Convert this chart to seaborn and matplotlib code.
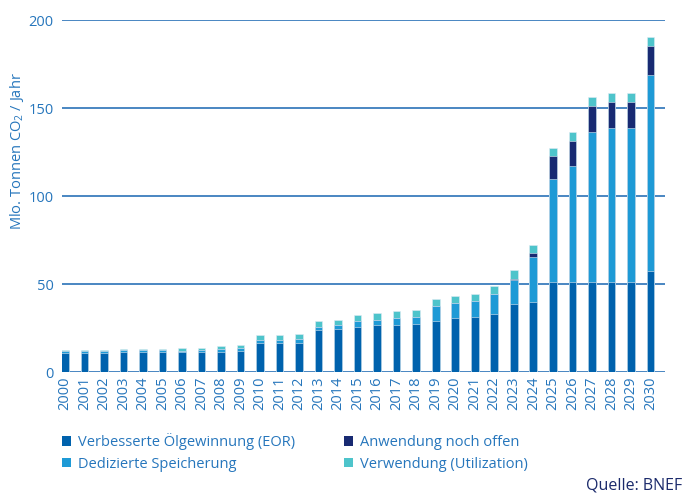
import numpy as np
import pandas as pd
import matplotlib
matplotlib.use("Agg")
import matplotlib.pyplot as plt
import seaborn as sns
from matplotlib.patches import Patch

years = [str(y) for y in range(2000, 2031)]
eor = [10.7, 10.7, 10.7, 11.3, 11.3, 11.3, 11.3, 11.3, 11.3, 11.8, 16.4, 16.4, 16.4, 23.9, 24.4,
       25.5, 26.6, 26.6, 27.3, 29.0, 30.7, 31.3, 32.8, 38.7, 39.8, 51.0, 51.0, 51.0, 51.0, 51.0, 57.3]
dedicated = [1.1, 1.1, 1.1, 1.1, 1.1, 1.1, 0.9, 1.3, 1.7, 1.6, 1.7, 1.5, 2.3, 1.7, 2.3,
             3.4, 2.8, 4.0, 3.8, 8.4, 8.6, 9.1, 11.6, 13.3, 25.3, 58.7, 65.9, 85.2, 87.7, 87.7, 111.2]
open_use = [0, 0, 0, 0, 0, 0, 0, 0, 0, 0, 0, 0, 0, 0, 0,
            0, 0, 0, 0, 0, 0, 0, 0, 1.1, 2.5, 12.9, 14.6, 15.1, 14.9, 14.9, 16.5]
utilization = [0.6, 0.6, 0.6, 0.4, 0.4, 0.4, 1.2, 1.1, 1.5, 1.7, 2.7, 2.9, 2.7, 3.2, 2.7,
               3.6, 4.2, 4.3, 4.4, 4.0, 4.0, 4.2, 4.4, 4.6, 4.7, 4.7, 5.1, 4.9, 5.0, 5.0, 5.3]

labels = ["Verbesserte Ölgewinnung (EOR)", "Dedizierte Speicherung",
          "Anwendung noch offen", "Verwendung (Utilization)"]
colors = ["#0062AD", "#1E9AD6", "#182A72", "#4EC4CB"]
blue_text = "#2676BC"
grid_col = "#2A72B8"

sns.set_style("white")
plt.rcParams['font.family'] = ['Open Sans', 'DejaVu Sans']
plt.rcParams['mathtext.fontset'] = 'custom'
plt.rcParams['mathtext.rm'] = 'Open Sans'

df = pd.DataFrame({"year": years, "eor": eor, "ded": dedicated,
                   "open": open_use, "util": utilization})
df["c1"] = df["eor"]
df["c2"] = df["c1"] + df["ded"]
df["c3"] = df["c2"] + df["open"]
df["c4"] = df["c3"] + df["util"]

fig = plt.figure(figsize=(6.83, 4.93), dpi=100)
ax = fig.add_axes([62 / 683, 1 - 372 / 493, (665 - 62) / 683, (372 - 20) / 493])

for col, c in zip(["c4", "c3", "c2", "c1"], colors[::-1]):
    sns.barplot(data=df, x="year", y=col, color=c, saturation=1, width=0.39,
                order=years, ax=ax, edgecolor="#dfeaf3", linewidth=0.4, zorder=3)

ax.set_ylim(0, 200)
ax.set_xlim(-0.15, 30.75)
ax.set_yticks([0, 50, 100, 150, 200])
ax.yaxis.grid(True, color=grid_col, linewidth=1.2)
ax.set_axisbelow(True)
for s in ax.spines.values():
    s.set_visible(False)
ax.set_xlabel("")
ax.set_ylabel("")
ax.tick_params(axis="both", length=0, labelsize=10.5, labelcolor=blue_text)
ax.tick_params(axis="y", pad=6)
ax.tick_params(axis="x", pad=3)
plt.setp(ax.get_xticklabels(), rotation=90)

fig.text(17 / 683, 1 - 151 / 493, r"Mlo. Tonnen CO$_\mathregular{2}$ / Jahr", rotation=90,
         ha="center", va="center", color=blue_text, fontsize=10.5)

handles = [Patch(facecolor=c, edgecolor="none") for c in colors]
leg = fig.legend(handles, labels, ncol=2, loc="upper left",
                 bbox_to_anchor=(49 / 683, 1 - 420 / 493), frameon=False,
                 fontsize=10.5, handlelength=0.62, handleheight=0.62,
                 handletextpad=0.45, columnspacing=3.4, labelspacing=0.45)
for t in leg.get_texts():
    t.set_color(blue_text)

fig.text(682 / 683, 1 - 486 / 493, "Quelle: BNEF", ha="right", va="center",
         color="#1B2A6B", fontsize=11.5)

fig.savefig("out.png", dpi=100)
